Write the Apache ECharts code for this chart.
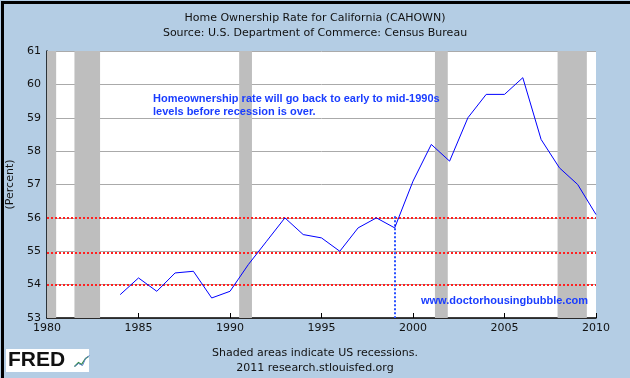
<!DOCTYPE html>
<html>
<head>
<meta charset="utf-8">
<script src="https://cdn.jsdelivr.net/npm/echarts@6/dist/echarts.min.js"></script>
<style>
html, body { margin: 0; padding: 0; }
#chart { width: 630px; height: 378px; }
</style>
</head>
<body>
<div id="chart"></div>
<script>
// annual home ownership rate, California
var years = [1984, 1985, 1986, 1987, 1988, 1989, 1990, 1991, 1992, 1993, 1994, 1995, 1996, 1997,
	1998, 1999, 2000, 2001, 2002, 2003, 2004, 2005, 2006, 2007, 2008, 2009, 2010];
var rates = [53.7, 54.2, 53.8, 54.35, 54.4, 53.6, 53.8, 54.6, 55.3, 56.0, 55.5, 55.4, 55.0, 55.7,
	56.0, 55.7, 57.1, 58.2, 57.7, 59.0, 59.7, 59.7, 60.2, 58.35, 57.5, 57.0, 56.1];
// recessions [start, end]
var recessions = [[1980.0, 1980.5], [1981.5, 1982.9], [1990.5, 1991.2], [2001.2, 2001.9], [2007.9, 2009.5]];
var levelLines = [54, 54.96, 56];
var markYear = 1999;

var chartDom = document.getElementById('chart');
var myChart = echarts.init(chartDom);
var option;

var seriesData = years.map(function (y, i) { return [y, rates[i]]; });
var areas = recessions.map(function (r) { return [{ xAxis: r[0] }, { xAxis: r[1] }]; });
var lines = levelLines.map(function (v) { return { yAxis: v }; });

option = {
	backgroundColor: '#b4cde4',
	animation: false,
	textStyle: { fontFamily: 'DejaVu Sans' },
	title: {
		text: 'Home Ownership Rate for California (CAHOWN)\nSource: U.S. Department of Commerce: Census Bureau',
		left: 'center',
		top: 6,
		textStyle: { fontSize: 11, fontWeight: 'normal', color: '#111', lineHeight: 15, fontFamily: 'DejaVu Sans' }
	},
	grid: {
		left: 47, right: 34, top: 51, bottom: 60,
		outerBoundsMode: 'none',
		containLabel: false,
		show: true, backgroundColor: '#fff', borderWidth: 0
	},
	xAxis: {
		type: 'value',
		min: 1980, max: 2010, interval: 5,
		axisLine: { lineStyle: { color: '#000', width: 1.5 } },
		axisTick: { inside: true, length: 5, lineStyle: { color: '#000' } },
		axisLabel: { color: '#111', fontSize: 11, margin: 5, formatter: function (v) { return String(v); } },
		splitLine: { show: false }
	},
	yAxis: {
		type: 'value',
		min: 53, max: 61, interval: 1,
		name: '(Percent)',
		nameLocation: 'middle',
		nameGap: 29,
		nameTextStyle: { color: '#111', fontSize: 11 },
		axisLine: { show: true, lineStyle: { color: '#000', width: 1.5 } },
		axisTick: { show: false },
		axisLabel: { color: '#111', fontSize: 11, margin: 6 },
		splitLine: { lineStyle: { color: '#aaa', width: 1 } }
	},
	series: [ {
		type: 'line',
		data: seriesData,
		showSymbol: false,
		lineStyle: { color: '#0000ff', width: 1 },
		z: 5,
		markArea: {
			silent: true,
			itemStyle: { color: '#bebebe' },
			data: areas
		}
	}, {
		type: 'line',
		data: [],
		z: 4,
		markLine: {
			silent: true,
			symbol: 'none',
			label: { show: false },
			lineStyle: { color: '#ff2020', type: 'dotted', width: 2 },
			data: lines
		}
	}, {
		type: 'line',
		data: [],
		z: 4,
		markLine: {
			silent: true,
			symbol: 'none',
			label: { show: false },
			lineStyle: { color: '#2a50ff', type: 'dotted', width: 2 },
			data: [ [ { coord: [markYear, 56.05] }, { coord: [markYear, 53] } ] ]
		}
	} ],
	graphic: [ {
		type: 'text', left: 153, top: 92, z: 100,
		style: {
			text: 'Homeownership rate will go back to early to mid-1990s\nlevels before recession is over.',
			fill: '#1a3dff', font: 'bold 11px "Liberation Sans"', lineHeight: 13
		}
	}, {
		type: 'text', left: 421, top: 295, z: 100,
		style: { text: 'www.doctorhousingbubble.com', fill: '#1a3dff', font: 'bold 11px "Liberation Sans"' }
	}, {
		type: 'text', left: 'center', top: 348, z: 100,
		style: { text: 'Shaded areas indicate US recessions.', fill: '#111', font: '11px "DejaVu Sans"' }
	}, {
		type: 'text', left: 'center', top: 363, z: 100,
		style: { text: '2011 research.stlouisfed.org', fill: '#111', font: '11px "DejaVu Sans"' }
	}, {
		type: 'rect', left: 6, top: 349, z: 100,
		shape: { width: 83, height: 23 },
		style: { fill: '#fff' }
	}, {
		type: 'text', left: 8, top: 350, z: 101,
		style: { text: 'FRED', fill: '#111', font: '900 21px "Liberation Sans"' }
	}, {
		type: 'polyline', left: 72, top: 354, z: 101,
		shape: { points: [[0, 14], [4, 10], [7, 12], [11, 6], [14, 4]] },
		style: { stroke: '#2f8a3a', lineWidth: 1.2, fill: 'none' }
	}, {
		type: 'polyline', left: 72, top: 353, z: 101,
		shape: { points: [[0, 12], [4, 9], [8, 11], [11, 4], [15, 1]] },
		style: { stroke: '#5a7fc8', lineWidth: 1, fill: 'none' }
	}, {
		type: 'rect', left: 0, top: 0, z: 102,
		shape: { width: 630, height: 378 },
		style: { fill: 'none', stroke: '#000', lineWidth: 3 }
	} ]
};

option && myChart.setOption(option);
</script>
</body>
</html>
